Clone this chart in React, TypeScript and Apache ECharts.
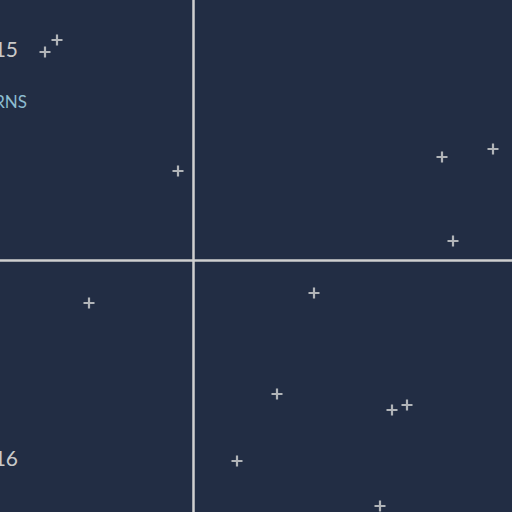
import React, { useEffect, useRef } from "react";
import * as echarts from "echarts";

const xValues = [-1.36, -1.48, -0.15, 2.49, 3.0, 2.6, -1.04, 1.21, 0.84, 1.99, 2.14, 0.44, 1.87];
const yValues = [2.2, 2.08, 0.89, 1.03, 1.11, 0.19, -0.43, -0.33, -1.34, -1.5, -1.45, -2.01, -2.46];
const xRange = [-1.93, 3.19];
const yRange = [-2.52, 2.6];
const sideLabels = ["2015", "2016"];
const quadrantLabel = "RETURNS";

export default function App() {
  const ref = useRef<HTMLDivElement>(null);
  useEffect(() => {
    if (!ref.current) return;
    const chart = echarts.init(ref.current, undefined, { renderer: "svg" });
    const data = xValues.map((x, i) => [x, yValues[i]]);
    chart.setOption({
      animation: false,
      backgroundColor: "#222d44",
      grid: { left: 0, right: 0, top: 0, bottom: 0 },
      xAxis: {
        type: "value",
        min: xRange[0],
        max: xRange[1],
        axisLine: { onZero: true, lineStyle: { color: "#cfcfcf", width: 2.5 } },
        axisTick: { show: false },
        axisLabel: { show: false },
        splitLine: { show: false },
      },
      yAxis: {
        type: "value",
        min: yRange[0],
        max: yRange[1],
        axisLine: { show: true, onZero: true, lineStyle: { color: "#cfcfcf", width: 2.5 } },
        axisTick: { show: false },
        axisLabel: { show: false },
        splitLine: { show: false },
      },
      graphic: [
        {
          type: "text",
          x: 18,
          y: 48,
          style: {
            text: sideLabels[0],
            fill: "#c9c9c9",
            font: "21px Lato",
            textAlign: "right",
            textVerticalAlign: "middle",
          },
        },
        {
          type: "text",
          x: 18,
          y: 457,
          style: {
            text: sideLabels[1],
            fill: "#c9c9c9",
            font: "21px Lato",
            textAlign: "right",
            textVerticalAlign: "middle",
          },
        },
        {
          type: "text",
          x: 27,
          y: 101.5,
          style: {
            text: quadrantLabel,
            fill: "#8dbdd1",
            font: "17px Lato",
            textAlign: "right",
            textVerticalAlign: "middle",
          },
        },
      ],
      series: [
        {
          type: "scatter",
          data,
          symbol: "path://M4,0H6V4H10V6H6V10H4V6H0V4H4Z",
          symbolSize: 11,
          itemStyle: { color: "#d6d6d6" },
        },
      ],
    });
    return () => chart.dispose();
  }, []);
  return (
    <div
      ref={ref}
      style={{ position: "fixed", left: 0, top: 0, width: 512, height: 512 }}
    />
  );
}
